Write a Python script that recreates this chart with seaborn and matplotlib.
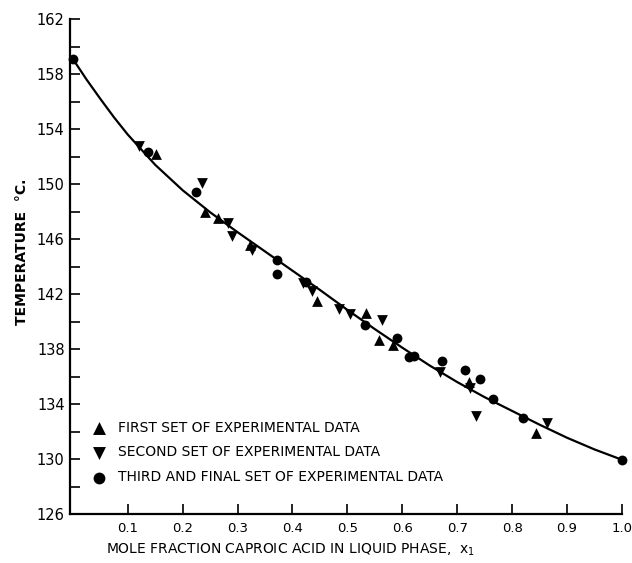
import numpy as np
import pandas as pd
import matplotlib
matplotlib.use("Agg")
import matplotlib.pyplot as plt
import seaborn as sns

# first set of experimental data (up triangles)
x_first = [0.152, 0.241, 0.265, 0.323, 0.444, 0.533, 0.557, 0.583, 0.721, 0.843]
t_first = [152.2, 148.0, 147.5, 145.6, 141.5, 140.6, 138.65, 138.3, 135.6, 131.9]

# second set (down triangles)
x_second = [0.120, 0.235, 0.282, 0.290, 0.327, 0.420, 0.436, 0.484, 0.504, 0.563,
            0.668, 0.723, 0.735, 0.863]
t_second = [152.8, 150.05, 147.2, 146.2, 145.2, 142.8, 142.2, 140.95, 140.55, 140.15,
            136.3, 135.15, 133.1, 132.6]

# third and final set (circles)
x_third = [0.0, 0.136, 0.225, 0.371, 0.371, 0.425, 0.532, 0.591, 0.612, 0.622,
           0.672, 0.714, 0.742, 0.765, 0.819, 1.0]
t_third = [159.1, 152.3, 149.45, 144.5, 143.45, 142.9, 139.75, 138.8, 137.45, 137.5,
           137.1, 136.5, 135.85, 134.4, 133.0, 129.95]

# smooth curve
x_curve = [0.0, 0.025, 0.05, 0.075, 0.1, 0.15, 0.2, 0.25, 0.3, 0.35, 0.4, 0.45, 0.5,
           0.55, 0.6, 0.65, 0.7, 0.75, 0.8, 0.85, 0.9, 0.95, 1.0]
t_curve = [159.1, 157.6, 156.2, 154.85, 153.6, 151.4, 149.55, 147.95, 146.5, 145.1,
           143.7, 142.3, 140.85, 139.45, 138.1, 136.8, 135.6, 134.5, 133.5, 132.5,
           131.55, 130.7, 129.95]

x_ticks = [0.1, 0.2, 0.3, 0.4, 0.5, 0.6, 0.7, 0.8, 0.9, 1.0]
x_ticklabels = ["0.1", "0.2", "0.3", "0.4", "0.5", "0.6", "0.7", "0.8", "0.9", "1.0"]
y_ticks = [126, 130, 134, 138, 142, 146, 150, 154, 158, 162]

sns.set_style("ticks")
plt.rcParams["font.family"] = ["DejaVu Sans"]
plt.rcParams["text.color"] = "black"
plt.rcParams["axes.labelcolor"] = "black"

fig = plt.figure(figsize=(6.32, 5.63), dpi=100)
ax = fig.add_axes([0.111, 0.087, 0.873, 0.879])

curve = pd.DataFrame({"x": x_curve, "t": t_curve})
sns.lineplot(data=curve, x="x", y="t", color="black", linewidth=1.6, ax=ax,
             sort=False, estimator=None)

sets = [
    (x_first, t_first, "^", "FIRST SET OF EXPERIMENTAL DATA", 60),
    (x_second, t_second, "v", "SECOND SET OF EXPERIMENTAL DATA", 60),
    (x_third, t_third, "o", "THIRD AND FINAL SET OF EXPERIMENTAL DATA", 50),
]
for xs, ts, mk, lab, size in sets:
    sns.scatterplot(x=xs, y=ts, marker=mk, s=size, color="black", edgecolor="black",
                    linewidth=0, label=lab, ax=ax, clip_on=False, zorder=3)

ax.set_xlim(-0.005, 1.0)
ax.set_ylim(126, 162)
ax.set_xticks(x_ticks)
ax.set_xticklabels(x_ticklabels, fontsize=9.5)
ax.set_yticks(y_ticks)
ax.set_yticks(np.arange(128, 162, 4), minor=True)
ax.tick_params(axis="both", which="both", direction="in", length=7, width=1.2,
               colors="black", labelcolor="black")
ax.tick_params(axis="y", labelsize=10.5, pad=4)
ax.tick_params(axis="x", pad=6)

for side in ["top", "right"]:
    ax.spines[side].set_visible(False)
for side in ["left", "bottom"]:
    ax.spines[side].set_linewidth(1.6)
    ax.spines[side].set_color("black")

ax.set_xlabel(r"MOLE FRACTION CAPROIC ACID IN LIQUID PHASE,  $\mathregular{x_1}$",
              fontsize=10)
ax.xaxis.set_label_coords(0.40, -0.055)
ax.set_ylabel("TEMPERATURE  °C.", fontsize=10, fontweight="bold")
ax.yaxis.set_label_coords(-0.075, 0.53)

leg = ax.legend(loc="lower left", bbox_to_anchor=(0.005, 0.035), frameon=False,
                fontsize=10, handletextpad=0.35, labelspacing=0.78, markerscale=1.2)

fig.savefig("out.png", dpi=100)
